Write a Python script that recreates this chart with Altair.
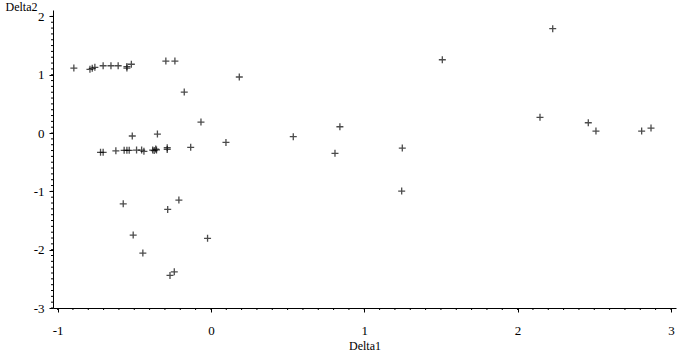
import altair as alt
import pandas as pd

# Scatter data
delta1 = [-0.894, -0.789, -0.774, -0.757, -0.703, -0.652, -0.605, -0.548, -0.548, -0.519,
          -0.294, -0.235, 0.185, -0.174,
          -0.720, -0.703, -0.620, -0.566, -0.548, -0.533, -0.485, -0.452, -0.437, -0.380,
          -0.370, -0.360, -0.355, -0.285, -0.285, -0.132, 0.098, -0.065, -0.513, -0.349,
          -0.572, -0.209, -0.282, -0.507, -0.022, -0.444, -0.239, -0.267,
          0.841, 0.537, 0.809, 1.248, 1.244, 2.229, 1.509, 2.146, 2.461, 2.511, 2.809, 2.870]
delta2 = [1.115, 1.093, 1.110, 1.127, 1.154, 1.154, 1.154, 1.140, 1.115, 1.180,
          1.235, 1.235, 0.961, 0.703,
          -0.331, -0.331, -0.304, -0.297, -0.297, -0.297, -0.292, -0.292, -0.314, -0.292,
          -0.300, -0.275, -0.290, -0.252, -0.280, -0.245, -0.160, 0.189, -0.051, -0.017,
          -1.213, -1.149, -1.309, -1.750, -1.806, -2.058, -2.379, -2.441,
          0.108, -0.063, -0.348, -0.257, -0.995, 1.789, 1.257, 0.269, 0.177, 0.034, 0.034, 0.086]

x_major = [-1, 0, 1, 2, 3]
y_major = [-3, -2, -1, 0, 1, 2]
x_minor = [round(-1 + 0.1 * i, 1) for i in range(41)]
y_minor = [round(-3 + 0.1 * i, 1) for i in range(51)]

pts = pd.DataFrame({"Delta1": delta1, "Delta2": delta2})
xm = pd.DataFrame({"v": x_minor})
ym = pd.DataFrame({"v": y_minor})

W, H = 623, 298
xscale = alt.Scale(domain=[-1.03, 3.033], nice=False, zero=False)
yscale = alt.Scale(domain=[-3.0, 2.11], nice=False, zero=False)

points = alt.Chart(pts).mark_point(
    shape="M-1,0L1,0M0,-1L0,1", size=49, color="black", strokeWidth=1.3, filled=False
).encode(
    x=alt.X("Delta1:Q", scale=xscale,
            axis=alt.Axis(values=x_major, title="Delta1", tickSize=4, labelPadding=12,
                          labelExpr="'' + datum.value",
                          titleY=41, titleBaseline="alphabetic")),
    y=alt.Y("Delta2:Q", scale=yscale,
            axis=alt.Axis(values=y_major, title="Delta2", tickSize=4, labelPadding=5,
                          labelExpr="'' + datum.value",
                          titleAngle=0, titleAlign="left", titleX=-48, titleY=0,
                          titleBaseline="alphabetic")),
)

xticks = alt.Chart(xm).mark_rule(color="black", strokeWidth=1).encode(
    x=alt.X("v:Q", scale=xscale), y=alt.value(H), y2=alt.value(H + 2)
)
yticks = alt.Chart(ym).mark_rule(color="black", strokeWidth=1).encode(
    y=alt.Y("v:Q", scale=yscale), x=alt.value(-2), x2=alt.value(0)
)

chart = alt.layer(points, xticks, yticks).properties(
    width=W, height=H,
    autosize=alt.AutoSizeParams(type="none"),
    padding={"left": 53, "top": 10, "right": 6, "bottom": 47},
).configure_view(stroke=None).configure_axis(
    grid=False, domainColor="black", tickColor="black", labelColor="black",
    titleColor="black", labelFont="Liberation Serif", labelFontSize=13,
    titleFont="Liberation Serif", titleFontSize=12, titleFontWeight="normal",
    domainWidth=1, tickWidth=1,
)

chart.save("out.html", embed_options={"renderer": "svg", "actions": False})
